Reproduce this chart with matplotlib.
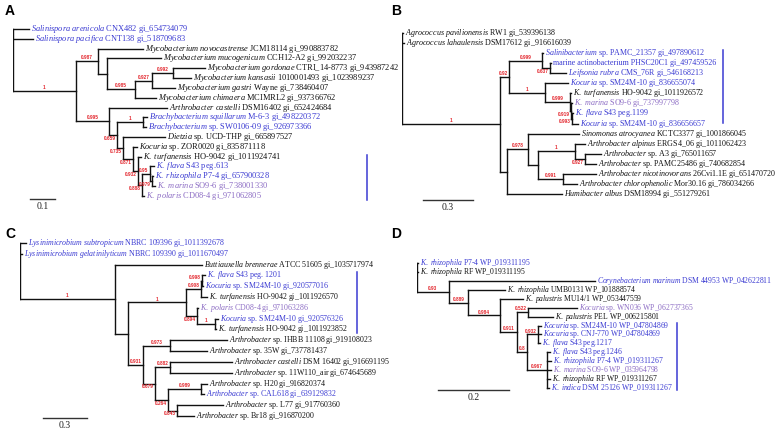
import matplotlib
matplotlib.use("Agg")
import matplotlib.pyplot as plt
from matplotlib.collections import LineCollection

plt.rcParams['font.family'] = 'Liberation Serif'
plt.rcParams['mathtext.fontset'] = 'custom'
plt.rcParams['mathtext.rm'] = 'Liberation Serif'
plt.rcParams['mathtext.it'] = 'Liberation Serif:italic'
plt.rcParams['mathtext.bf'] = 'Liberation Serif:bold'

BLUE = '#3a3ad2'
PURPLE = '#8c6cc4'
BLACK = '#111111'
RED = '#e3262d'
B, P, K = BLUE, PURPLE, BLACK

# ---- panel A ----
species_a = ["Salinispora arenicola", "Salinispora pacifica", "Mycobacterium novocastrense",
             "Mycobacterium mucogenicum", "Mycobacterium gordonae", "Mycobacterium kansasii",
             "Mycobacterium gastri", "Mycobacterium chimaera", "Arthrobacter castelli",
             "Brachybacterium squillarum", "Brachybacterium", "Dietzia", "Kocuria",
             "K. turfanensis", "K. flava", "K. rhizophila", "K. marina", "K. polaris"]
strain_a = ["CNX482 gi_654734079", "CNT138 gi_518709683", "JCM18114 gi_990883782",
            "CCH12-A2 gi_992032237", "CTRI_14-8773 gi_943987242", "1010001493 gi_1023989237",
            "Wayne gi_738460407", "MCIMRL2 gi_937366762", "DSM16402 gi_652424684",
            "M-6-3 gi_498220372", "sp. SW0106-09 gi_926973366", "sp. UCD-THP gi_665897527",
            "sp. ZOR0020 gi_835871118", "HO-9042 gi_1011924741", "S43 peg.613",
            "P7-4 gi_657900328", "SO9-6 gi_738001330", "CD08-4 gi_971062805"]
colors_a = [B, B, K, K, K, K, K, K, K, B, B, K, K, K, B, B, P, P]
tree_a = ("(0:0.064,1:0.080,((2:0.18,(3:0.216,(((4:0.128,5:0.072)0.992:0.084,6:0.092)0.927:0.068,"
          "7:0.084)0.985:0.112):0.036)0.987:0.088,(8:0.232,((9:0.016,10:0.012)1:0.104,(11:0.168,"
          "(12:0.016,(13:0.012,((14:0.016,(15:0.004,16:0.012)0.979:0.008)0.95:0.032,17:0.008)"
          "0.888:0.016)0.932:0.02)0.871:0.04)0.735:0.024)0.659:0.032)0.995:0.132)1:0.252);")

# ---- panel B ----
species_b = ["Agrococcus pavilionensis", "Agrococcus lahaulensis", "Salinibacterium", "",
             "Leifsonia rubra", "Kocuria", "K. turfanensis", "K. marina", "K. flava", "Kocuria",
             "Sinomonas atrocyanea", "Arthrobacter alpinus", "Arthrobacter", "Arthrobacter",
             "Arthrobacter nicotinovorans", "Arthrobacter chlorophenolic", "Humibacter albus"]
strain_b = ["RW1 gi_539396138", "DSM17612 gi_916616039", "sp. PAMC_21357 gi_497890612",
            "marine actinobacterium PHSC20C1 gi_497459526", "CMS_76R gi_546168213",
            "sp. SM24M-10 gi_836655074", "HO-9042 gi_1011926572", "SO9-6 gi_737997798",
            "S43 peg.1199", "sp. SM24M-10 gi_836656657", "KCTC3377 gi_1001866045",
            "ERGS4_06 gi_1011062423", "sp. A3 gi_765011657", "sp. PAMC25486 gi_740682854",
            "26Cvi1.1E gi_651470720", "Mor30.16 gi_786034266", "DSM18994 gi_551279261"]
colors_b = [K, K, B, B, B, B, K, P, B, B, K, K, K, K, K, K, K]
tree_b = ("(0:0.006,1:0.012,(((2:0.006,(3:0.003,4:0.096)0.637:0.048)0.999:0.198,(5:0.138,"
          "(6:0.003,(7:0.006,(8:0.003,9:0.036)0.993:0.006)0.919:0.006)0.999:0.15)1:0.216)0.92:0.054,"
          "((10:0.306,((11:0.06,(12:0.096,13:0.066)0.927:0.06)1:0.222,(14:0.198,15:0.084)0.991:0.15)"
          ":0.06)0.978:0.126,16:0.33):0.042)1:0.588);")

# ---- panel C ----
species_c = ["Lysinimicrobium subtropicum", "Lysinimicrobium gelatinilyticum",
             "Buttiauxella brennerae", "K. flava", "Kocuria", "K. turfanensis", "K. polaris",
             "Kocuria", "K. turfanensis", "Arthrobacter", "Arthrobacter", "Arthrobacter castelli",
             "Arthrobacter", "Arthrobacter", "Arthrobacter", "Arthrobacter", "Arthrobacter"]
strain_c = ["NBRC 109396 gi_1011392678", "NBRC 109390 gi_1011670497", "ATCC 51605 gi_1035717974",
            "S43 peg. 1201", "sp. SM24M-10 gi_920577016", "HO-9042 gi_1011926570",
            "CD08-4 gi_971063286", "sp. SM24M-10 gi_920576326", "HO-9042 gi_1011923852",
            "sp. IHBB 11108 gi_919108023", "sp. 35W gi_737781437", "DSM 16402 gi_916691195",
            "sp. 11W110_air gi_674645689", "sp. H20 gi_916820374", "sp. CAL618 gi_639129832",
            "sp. L77 gi_917760360", "sp. Br18 gi_916870200"]
colors_c = [B, B, K, B, B, K, P, B, K, K, K, K, K, K, B, K, K]
tree_c = ("(0:0.041,1:0.014,(2:0.593,((((3:0.02,4:0.007)0.998:0.007,5:0.041)0.908:0.102,"
          "(6:0.007,(7:0.02,8:0.007)1:0.123)0.894:0.075)1:0.395,((9:0.389,10:0.252)0.973:0.184,"
          "((11:0.423,12:0.423)0.882:0.102,((13:0.041,14:0.02)0.989:0.225,(15:0.314,16:0.116)"
          "0.843:0.061)0.264:0.089)0.679:0.082)0.931:0.102):0.089)1:0.648);")

# ---- panel D ----
species_d = ["K. rhizophila", "K. rhizophila", "Corynebacterium marinum", "K. rhizophila",
             "K. palustris", "Kocuria", "K. palustris", "Kocuria", "Kocuria", "K. flava",
             "K. flava", "K. rhizophila", "K. marina", "K. rhizophila", "K. indica"]
strain_d = ["P7-4 WP_019311195", "RF WP_019311195", "DSM 44953 WP_042622811",
            "UMB0131 WP_101888574", "MU14/1 WP_053447559", "sp. WN036 WP_062737365",
            "PEL WP_006215801", "sp. SM24M-10 WP_047804869", "sp. CNJ-770 WP_047804869",
            "S43 peg.1217", "S43 peg.1246", "P7-4 WP_019311267", "SO9-6 WP_035964798",
            "RF WP_019311267", "DSM 25126 WP_019311267"]
colors_d = [B, K, B, K, K, P, K, B, B, B, B, B, P, K, B]
tree_d = ("(0:0.003,1:0.003,(2:0.411,(3:0.104,(4:0.065,((5:0.138,6:0.070)0.522:0.031,"
          "((7:0.008,8:0.008,9:0.006)0.932:0.031,(10:0.008,11:0.011,12:0.011,13:0.008,14:0.006)"
          "0.967:0.056)0.8:0.028)0.911:0.048)0.984:0.090)0.889:0.054)0.93:0.090);")

scale_lengths = [0.1, 0.3, 0.3, 0.2]


def parse_newick(s):
    s = s.strip().rstrip(';')
    i = 0

    def read():
        nonlocal i
        kids = []
        if s[i] == '(':
            i += 1
            while True:
                kids.append(read())
                if s[i] == ',':
                    i += 1
                    continue
                i += 1  # ')'
                break
        j = i
        while i < len(s) and s[i] not in ',():':
            i += 1
        name = s[j:i]
        length = 0.0
        if i < len(s) and s[i] == ':':
            i += 1
            j = i
            while i < len(s) and s[i] not in ',()':
                i += 1
            length = float(s[j:i])
        return {'kids': kids, 'name': name, 'len': length}

    return read()


def place(nd, x0):
    nd['x'] = x0 + nd['len']
    if nd['kids']:
        for c in nd['kids']:
            place(c, nd['x'])
        nd['y'] = (nd['kids'][0]['y'] + nd['kids'][-1]['y']) / 2
    else:
        nd['y'] = int(nd['name'])


def leaf_label(sp, rest):
    if not sp:
        return rest
    return r"$\mathit{" + sp.replace(' ', r'\ ') + "}$ " + rest


W, H = 779, 433
fig = plt.figure(figsize=(W / 100, H / 100), dpi=100)

# layout in pixels: root x, px per unit, first leaf y, leaf spacing, scale bar xy, side bar x, y0, y1
panels = [
    dict(letter='A', lx=5, ly=4, tree=tree_a, sp=species_a, st=strain_a, col=colors_a, fs=6.0,
         root=13, k=250, y0=29, dy=9.82, sbx=30, sby=199, bar=(367, 155, 200)),
    dict(letter='B', lx=391, ly=4, tree=tree_b, sp=species_b, st=strain_b, col=colors_b, fs=5.8,
         root=402, k=166.7, y0=33, dy=10.06, sbx=423, sby=200, bar=(723, 50, 123)),
    dict(letter='C', lx=5, ly=227, tree=tree_c, sp=species_c, st=strain_c, col=colors_c, fs=5.7,
         root=20, k=146.7, y0=243, dy=10.81, sbx=43, sby=418, bar=(357, 272, 333)),
    dict(letter='D', lx=391, ly=227, tree=tree_d, sp=species_d, st=strain_d, col=colors_d, fs=5.5,
         root=417, k=355, y0=263, dy=8.93, sbx=438, sby=390, bar=(677, 323, 390)),
]

for pi, p in enumerate(panels):
    fig.text(p['lx'] / W, 1 - p['ly'] / H, p['letter'], fontsize=10, fontweight='bold',
             family='Liberation Sans', va='top', ha='left')

    n = len(p['sp'])
    k, dy = p['k'], p['dy']
    top = p['y0'] - dy / 2
    height = (n + 1.5) * dy
    width = 370
    ax = fig.add_axes([p['root'] / W, 1 - (top + height) / H, width / W, height / H])
    ax.set_xlim(0, width / k)
    ax.set_ylim(n + 1.0, -0.5)
    ax.axis('off')

    root = parse_newick(p['tree'])
    place(root, 0.0)

    segs = []
    stack = [root]
    while stack:
        nd = stack.pop()
        if not nd['kids']:
            i = int(nd['name'])
            ax.annotate(leaf_label(p['sp'][i], p['st'][i]), (nd['x'], nd['y']),
                        xytext=(1.6, 0), textcoords='offset points', ha='left', va='center',
                        fontsize=p['fs'], color=p['col'][i], annotation_clip=False)
            continue
        ys = [c['y'] for c in nd['kids']]
        segs.append([(nd['x'], min(ys)), (nd['x'], max(ys))])
        for ci, c in enumerate(nd['kids']):
            segs.append([(nd['x'], c['y']), (c['x'], c['y'])])
            stack.append(c)
            if c['kids'] and c['name']:
                lab = c['name']
                w = 2.25 * len(lab)
                x0px, x1px = nd['x'] * k, c['x'] * k
                if (x1px - x0px) / 2 >= w / 2 + 1.5:
                    cx = (x0px + x1px) / 2
                else:
                    cx = x1px - 1.5 - w / 2
                left, right = cx - w / 2, cx + w / 2
                below = ci > 0 and left < x0px + 0.5 and right > x0px - 0.5
                ax.annotate(lab, (cx / k, c['y']), xytext=(0, -0.6 if below else 0.6),
                            textcoords='offset points', ha='center',
                            va='top' if below else 'bottom', fontsize=3.4, fontweight='bold',
                            family='Liberation Sans', color=RED, annotation_clip=False)

    ax.add_collection(LineCollection(segs, colors=BLACK, linewidths=1.0, capstyle='projecting'))

    # scale bar
    sx = (p['sbx'] - p['root']) / k
    sy = (p['sby'] - p['y0']) / dy
    L = scale_lengths[pi]
    ax.plot([sx, sx + L], [sy, sy], color='#333333', lw=1.0, clip_on=False)
    ax.annotate(str(L), (sx + L / 2, sy), xytext=(0, -2.5), textcoords='offset points',
                ha='center', va='top', fontsize=7, color='#222222', annotation_clip=False)

    # coloured bracket
    bx, by0, by1 = p['bar']
    ax.plot([(bx - p['root']) / k] * 2, [(by0 - p['y0']) / dy, (by1 - p['y0']) / dy],
            color=BLUE, lw=1.1, clip_on=False)

fig.savefig('out.png', dpi=100)
